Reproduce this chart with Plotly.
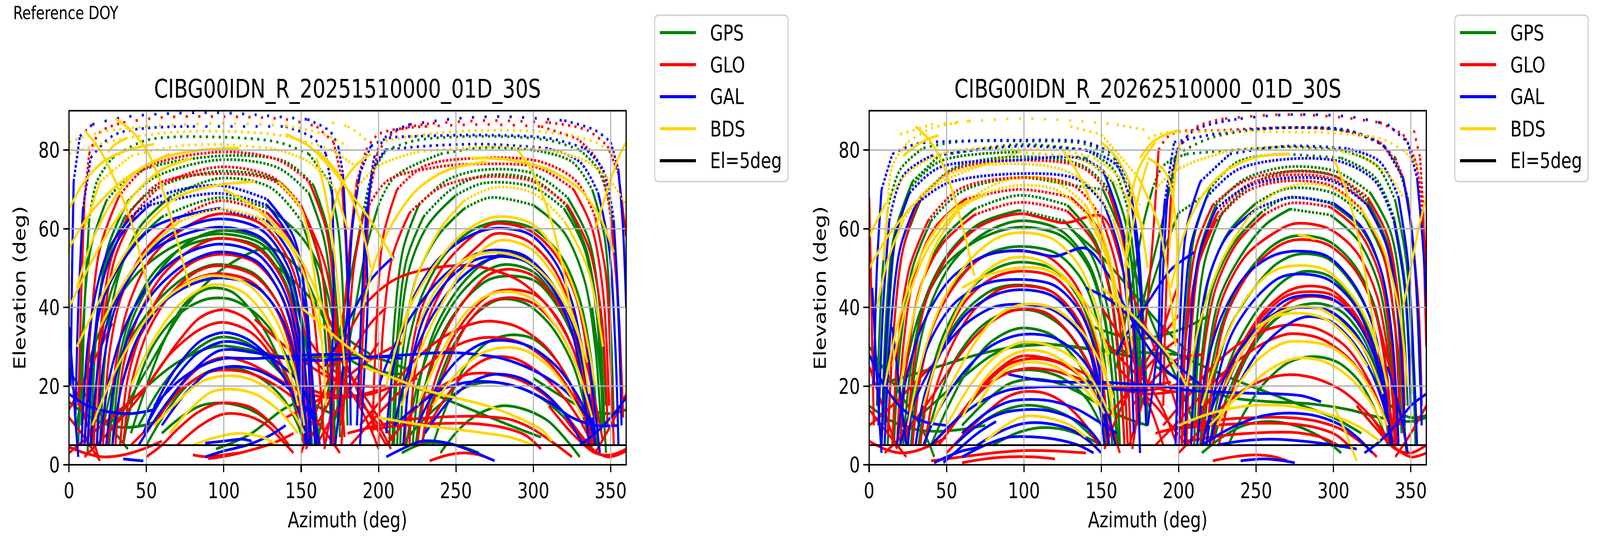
import plotly.graph_objects as go

FIG_W, FIG_H = 5228, 1398
FONT = "DejaVu Sans"

HEADER_TEXT = "Reference DOY"
PANEL_TITLES = ["CIBG00IDN_R_20251510000_01D_30S", "CIBG00IDN_R_20262510000_01D_30S"]
SYSTEMS = ["GPS", "GLO", "GAL", "BDS"]
SYSTEM_COLORS = {"GPS": "#008000", "GLO": "#ff0000", "GAL": "#0000ff", "BDS": "#ffd700"}
MASK_LABEL = "El=5deg"
MASK_COLOR = "#000000"
MASK_ELEV = 5
AZ_RANGE = [0, 360]
EL_RANGE = [0, 90]
AZ_TICKS = [0, 50, 100, 150, 200, 250, 300, 350]
EL_TICKS = [0, 20, 40, 60, 80]
X_LABEL = "Azimuth (deg)"
Y_LABEL = "Elevation (deg)"

# ---------------- Panel 1 (2025 DOY 151) : tracks as (azimuth, elevation) ----------------
P1_GPS = [
    [(8,10),(10,40),(13,62),(18,72),(28,78),(50,82.5),(97,83.3),(135,82),(155,79),(168,72),(174,60),(178,35),(180,10)],
    [(6,5),(9,35),(14,55),(24,67),(42,74),(97,78.5),(140,77),(158,71),(167,60),(173,40),(176,12)],
    [(14,5),(18,35),(25,55),(38,67),(55,73),(97,77.5),(135,75.5),(155,69),(165,57),(171,38),(174,10)],
    [(12,3),(16,30),(23,50),(36,63),(55,70),(97,74.6),(135,72),(152,64),(163,50),(169,30),(172,5)],
    [(20,5),(24,30),(32,48),(45,60),(65,68),(97,72.8),(130,70.5),(150,62),(161,48),(167,25),(170,5)],
    [(15,5),(20,30),(28,45),(40,55),(60,63),(97,67.9),(130,65),(150,58),(162,50),(170,38),(174,21),(175,7)],
    [(28,5),(33,25),(42,38),(56,48),(75,56),(97,59.5),(125,57),(142,48),(152,34),(157,15),(159,5)],
    [(26,5),(31,24),(40,38),(55,49),(75,55.5),(97,57.5),(122,55.5),(139,47),(149,34),(155,15),(157,5)],
    [(5,10),(12,25),(25,38),(45,49),(70,56),(97,58.7),(125,56),(140,48),(150,36),(158,18),(162,5)],
    [(20,5),(28,20),(40,32),(58,42),(78,48.5),(95,50.9),(120,48.5),(135,41),(145,30),(152,15),(155,5)],
    [(30,10),(50,24),(75,40),(100,50),(130,55),(150,49),(166,36),(181,27),(197,24),(215,23)],
    [(135,50),(150,45),(165,38),(180,32),(195,28)],
    [(40,8),(50,20),(62,32),(75,41),(90,44.8),(105,44),(120,38),(132,30),(142,20),(150,8)],
    [(35,5),(42,18),(54,30),(70,38),(88,42),(105,42),(122,38),(136,31),(146,22),(153,10)],
    [(45,10),(60,20),(78,28),(97,32.4),(115,31),(130,26),(145,20),(160,15),(175,12)],
    [(25,10),(45,18),(70,26),(95,30.1),(120,29),(145,27),(165,27.5),(180,28),(200,27),(220,24)],
    [(50,5),(62,13),(76,20),(92,24),(108,24.5),(124,22),(138,17),(148,10),(152,5)],
    [(60,8),(72,12),(85,15),(97,15.7),(110,15),(122,13),(132,10)],
    [(95,4),(108,6),(118,8),(128,11),(138,14),(148,16)],
    [(0,16),(10,13),(22,10.5),(35,9.5),(48,10),(60,11.5)],
    [(0,24),(10,18),(20,13),(30,8),(38,4)],
    [(160,5),(168,20),(176,36),(184,52),(190,64),(196,74),(205,80),(225,82.5),(268,83.5),(310,82.5),(330,80),(342,75),(350,65),(354,45),(357,15)],
    [(170,8),(177,22),(185,40),(192,55),(200,66),(210,73),(240,79),(268,80.6),(300,80),(325,77),(338,70),(346,58),(350,35),(352,10)],
    [(207,5),(210,35),(216,55),(226,66),(245,72.5),(268,75),(300,74),(322,68),(336,57),(343,40),(347,15)],
    [(209,5),(212,32),(218,52),(229,63),(247,70),(268,73.5),(300,72.5),(321,66),(334,55),(342,37),(346,10)],
    [(210,5),(213,30),(220,50),(232,61),(250,68.5),(268,71.6),(300,70.5),(320,65),(333,55),(341,38),(345,10)],
    [(212,5),(216,30),(224,47),(238,58),(255,65),(272,67.9),(300,66),(320,59),(333,47),(340,30),(344,8)],
    [(214,5),(218,28),(227,42),(242,53),(260,59.5),(278,61.8),(300,60),(318,53),(330,42),(338,25),(342,5)],
    [(222,5),(227,22),(237,35),(252,45),(267,51),(280,53.5),(298,52),(314,45),(326,35),(334,20),(338,5)],
    [(218,5),(225,20),(237,33),(252,43),(268,49),(282,50.9),(300,49),(315,42),(327,32),(336,18),(341,5)],
    [(224,5),(230,20),(241,33),(256,42),(271,47),(286,48),(302,46.5),(316,40),(328,30),(335,16),(339,5)],
    [(228,5),(236,18),(248,30),(262,38),(278,42),(295,41),(312,35),(326,25),(335,12),(338,5)],
    [(235,5),(244,15),(256,25),(270,31),(285,33),(300,32),(314,27),(326,19),(334,10),(338,4)],
    [(215,5),(228,11),(242,16),(258,20),(272,21),(288,20),(305,17),(320,12),(332,6)],
    [(240,3),(252,9),(265,13),(280,15),(295,14),(310,11),(322,6),(330,2)],
    [(190,26),(210,22),(235,18),(260,14),(285,10),(305,7)],
    [(215,3),(230,5.5),(250,5),(265,3)],
    [(300,22),(320,17),(335,14),(350,13),(360,14)],
    [(338,40),(342,28),(345,15),(347,3)],
]
P1_GLO = [
    [(6,15),(8,45),(10,68),(13,79),(20,84.5),(35,87),(60,88.3),(100,88.5),(140,87.8),(160,86),(171,82),(176,73),(179,55),(181,30)],
    [(10,5),(14,35),(20,55),(32,68),(50,75.5),(97,79.5),(135,77.5),(155,72),(166,60),(172,40),(176,10)],
    [(18,5),(22,35),(30,53),(43,64),(60,71),(97,75.7),(132,73),(150,66),(162,52),(168,30),(171,5)],
    [(16,5),(20,33),(27,52),(39,64),(58,71.5),(97,74),(133,72),(152,64),(166,50),(174,27),(178,7)],
    [(22,5),(26,28),(34,43),(48,54),(68,62),(97,67.1),(128,64),(145,56),(156,43),(162,22),(165,5)],
    [(25,5),(30,25),(38,40),(52,52),(72,59.5),(97,63.8),(125,61),(142,52),(152,38),(157,18),(159,5)],
    [(30,5),(35,25),(45,38),(60,48),(80,55),(97,57.6),(122,55),(138,47),(148,34),(154,15),(156,5)],
    [(33,5),(38,22),(48,35),(62,45),(80,51.5),(97,53.5),(120,51.5),(136,44),(146,33),(152,17),(154,5)],
    [(35,5),(40,20),(50,33),(65,43),(82,49),(97,50.6),(120,48),(135,41),(145,30),(150,15),(152,5)],
    [(28,5),(34,20),(45,32),(62,42),(80,47),(97,48.6),(118,46.5),(133,40),(143,30),(149,16),(152,5)],
    [(0,3),(15,8),(30,13),(50,20),(70,31),(85,37.5),(100,39.4),(115,37),(126,32),(138,25),(148,15),(154,5)],
    [(10,2),(25,8),(45,17),(65,28),(85,34.5),(100,36.2),(118,33.5),(132,27),(145,17),(155,5)],
    [(55,10),(70,19),(85,25),(100,27.3),(115,26),(130,23),(145,19.5),(160,17.5),(172,17),(185,17.5),(200,19)],
    [(40,5),(55,11),(72,19),(90,23.5),(100,24.1),(115,23.5),(130,21),(145,17),(158,12),(168,7),(175,3)],
    [(50,2),(60,5),(70,9),(82,13),(95,15.5),(105,15.7),(118,14.5),(132,10),(142,5)],
    [(70,5),(85,10),(100,12.9),(115,12.5),(128,10),(138,6),(145,3)],
    [(80,2.5),(90,2),(100,2.5),(110,3)],
    [(90,1.5),(105,2.5),(120,4),(135,6),(145,8)],
    [(0,4.5),(10,3),(22,2),(35,2.5),(48,4),(60,6)],
    [(0,12),(8,8),(15,4),(20,1)],
    [(2,20),(8,14),(14,8),(19,2)],
    [(0,14),(8,20),(18,28),(28,36)],
    [(153,4),(160,10),(168,16),(176,23),(185,30),(195,36),(205,40)],
    [(150,35),(158,30),(166,26),(176,22),(186,16),(195,9),(200,4)],
    [(120,37),(140,30),(160,24),(175,21),(190,20),(205,20)],
    [(150,3),(160,14),(170,24),(180,33),(192,41),(210,47),(235,50),(262,50.5),(290,47),(310,40),(325,30),(335,18),(340,8)],
    [(165,40),(175,30),(185,20),(195,12),(205,5)],
    [(150,20),(165,18),(180,17.5),(195,18),(210,20),(225,22)],
    [(140,12),(155,15),(170,19),(185,24),(200,28),(215,31)],
    [(155,28),(165,24),(178,20),(190,15),(200,10),(208,4)],
    [(160,5),(170,12),(180,18),(190,25),(200,31)],
    [(170,30),(180,24),(190,18),(200,12),(210,6)],
    [(188,15),(191,45),(194,68),(199,79),(210,84.5),(235,86.8),(270,87.5),(310,87),(335,85),(348,81),(355,74),(360,58)],
    [(165,4),(172,20),(178,40),(182,58),(186,72),(192,80),(200,84),(230,86),(268,86.5),(305,86),(328,83),(342,77),(350,63),(355,40),(358,12)],
    [(196,8),(199,38),(203,58),(212,70),(230,76),(268,78),(305,77),(328,72),(340,63),(347,48),(350,25),(352,5)],
    [(176,5),(180,30),(184,50),(190,63),(205,72),(235,75.5),(268,76.5),(303,75.5),(326,70),(338,60),(345,44),(349,15)],
    [(200,5),(203,35),(209,53),(220,64),(240,70.5),(268,73.2),(300,72),(322,66),(336,55),(344,38),(348,10)],
    [(217,5),(220,25),(228,40),(243,51),(262,58.5),(275,61.3),(298,59.5),(315,53),(328,42),(336,25),(340,5)],
    [(220,5),(224,25),(233,38),(248,49),(264,55.5),(275,58.7),(296,57),(313,50),(325,39),(333,22),(337,5)],
    [(225,5),(231,20),(242,33),(256,42),(270,48),(283,49.7),(300,48),(316,41),(328,31),(336,18),(340,5)],
    [(228,5),(234,18),(245,30),(259,38.5),(273,43.5),(287,44.5),(302,43),(316,37),(327,28),(335,15),(339,5)],
    [(230,10),(243,24),(256,35),(270,41),(285,42.5),(300,41),(315,35),(328,25),(336,15),(340,8)],
    [(188,10),(205,18),(222,26),(240,32),(258,35.5),(272,36.5),(290,35),(308,30),(322,22),(333,12),(338,5)],
    [(182,5),(200,13),(220,21),(240,28),(258,31.5),(272,32.4),(292,31),(310,26),(325,18),(335,10),(340,5)],
    [(232,10),(245,18),(258,24),(272,27.2),(288,27),(305,23),(320,17),(332,10),(338,5)],
    [(205,5),(215,10),(228,16),(243,20.5),(258,23),(272,23.2),(288,22),(303,19),(318,14),(330,8),(338,4)],
    [(180,8),(200,10),(220,11.5),(245,12.2),(265,12.3),(285,11.5),(300,9),(315,5),(325,2)],
    [(195,9),(215,10),(240,10.5),(260,10.5),(280,9.5),(295,7.5),(305,4)],
    [(233,1),(245,2.5),(255,3),(265,2.5),(272,1.5)],
    [(310,15),(325,8),(340,3),(350,2.5),(360,4)],
    [(320,12),(335,5),(348,2),(360,3.5)],
    [(325,40),(333,28),(340,16),(345,6)],
    [(340,3),(350,10),(360,18)],
]
P1_GAL = [
    [(1,20),(2,50),(3,72),(7,83.5),(15,86.5),(38,88.5),(95,89.5),(154,87.8),(169,84.6),(174,80.8),(177,74),(179,58),(181,35),(182,10)],
    [(4,10),(6,40),(9,65),(14,78),(30,84),(80,86),(140,86),(158,83),(166,79),(170,70),(171,50),(170,25),(169,5)],
    [(8,5),(12,30),(18,45),(26,55),(40,63),(60,68.5),(97,71),(128,67.5),(145,58),(152,45),(155,25),(156,5)],
    [(12,5),(16,30),(22,47),(33,58),(52,66),(97,69),(128,66),(145,56),(153,42),(157,22),(159,5)],
    [(10,5),(15,28),(22,42),(35,52),(55,60.5),(97,65.2),(128,62),(145,52),(153,38),(158,18),(160,5)],
    [(18,5),(22,25),(30,40),(45,51),(65,58.5),(97,62.5),(125,59.5),(142,50),(150,36),(154,16),(156,5)],
    [(14,5),(20,28),(28,40),(42,50),(62,56.5),(97,60.4),(125,57.5),(140,49),(148,35),(152,15),(154,5)],
    [(20,5),(26,22),(36,35),(52,46),(72,53),(97,56.1),(122,53.5),(138,45),(147,33),(152,15),(154,5)],
    [(24,5),(30,22),(40,34),(55,44),(75,51),(97,54.1),(122,51.5),(137,43),(146,31),(151,14),(153,5)],
    [(28,5),(34,20),(44,32),(60,41),(80,46),(97,47.5),(120,45.5),(135,39),(145,29),(151,14),(153,5)],
    [(48,8),(58,17),(70,25),(85,31.5),(100,33.6),(115,32),(130,27),(142,20),(150,12),(155,5)],
    [(50,10),(65,20),(82,28),(100,31.3),(118,30),(135,26),(150,20),(158,12),(162,5)],
    [(45,5),(60,14),(78,23),(97,29),(120,28.5),(140,27),(160,26.5),(180,27),(200,27.5),(215,27)],
    [(55,15),(70,21),(85,25),(100,27),(120,27),(140,27.5),(160,28),(180,28)],
    [(165,25),(175,32),(185,40),(195,47),(210,53)],
    [(60,10),(75,18),(90,23.5),(105,25),(122,24),(140,20),(152,15),(160,10)],
    [(88,2),(100,3.5),(115,5),(130,7.5),(140,10)],
    [(88,5.5),(100,6),(112,6.5),(118,6)],
    [(35,1.5),(42,1.2),(48,1)],
    [(0,35),(2,25),(4,12),(6,2)],
    [(0,18),(12,15),(25,13.5),(40,13),(55,14)],
    [(186,10),(189,40),(192,65),(197,78),(205,83.5),(220,86.5),(250,88),(280,88.5),(320,87.5),(340,85),(350,82),(355,75),(358,60),(360,40)],
    [(172,5),(176,20),(180,40),(183,60),(188,74),(195,81),(206,83),(225,83.5),(268,83.8),(310,83),(333,80.5),(345,75),(352,62),(355,40),(357,10)],
    [(188,5),(191,25),(193,42),(192,60),(196,75),(204,80),(230,81),(268,81.5),(308,80.5),(330,77),(342,69),(349,55),(353,30),(355,5)],
    [(205,8),(211,28),(222,42),(238,52),(258,58),(275,60.1),(298,58.5),(315,51),(326,40),(333,25),(338,8)],
    [(200,20),(210,30),(225,40),(242,48),(260,53),(275,54.6),(295,53),(312,46),(325,36),(334,22),(340,8)],
    [(216,5),(221,25),(230,38),(245,47),(262,52),(278,53),(296,51.5),(312,45),(324,35),(332,20),(336,5)],
    [(210,10),(220,25),(235,38),(252,47),(270,52),(290,53),(310,47),(325,36),(335,20),(340,5)],
    [(225,10),(238,20),(252,27),(268,31),(282,31.6),(298,30),(315,25),(328,18),(338,10)],
    [(180,27),(200,27.5),(220,28),(240,28.5),(260,28.2),(280,27),(300,24),(320,19),(335,12),(340,8)],
    [(230,8),(245,16),(260,21),(275,23),(292,22),(308,18),(322,12),(332,5)],
    [(210,10),(225,15),(240,19),(258,21),(275,21),(292,19.5),(310,16),(325,12),(340,10),(355,10)],
    [(205,2),(215,4),(228,6),(245,5.5),(260,3.5),(275,1)],
    [(330,5),(340,8),(350,12),(360,17)],
    [(335,30),(338,20),(341,10),(343,3)],
]
P1_BDS = [
    [(0,82),(20,84.5),(50,86),(95,86.8),(140,86.2),(165,84),(180,81)],
    [(0,79),(25,82),(60,84.3),(100,84.8),(140,83.5),(170,80),(185,76)],
    [(10,60),(20,72),(40,78.5),(70,81),(97,81.4),(130,80.5),(155,77),(172,70),(180,60)],
    [(20,35),(35,46),(52,55),(72,62),(97,65),(122,63),(142,56),(155,45),(163,32)],
    [(15,10),(30,24),(48,36),(68,44),(90,48),(115,46),(132,38),(145,25),(152,10)],
    [(40,20),(55,32),(72,41),(92,45.7),(112,44),(128,37),(140,27),(148,15)],
    [(55,10),(70,16),(85,21),(100,22.6),(115,22),(130,19),(145,13),(152,8)],
    [(65,8),(78,14),(92,18.5),(105,19.2),(120,18),(135,14),(148,8)],
    [(80,5),(95,7),(110,8),(125,7),(135,5)],
    [(150,40),(165,35),(180,30),(195,26)],
    [(185,70),(200,76),(225,79.5),(268,80.8),(310,80),(335,77),(350,72),(360,66)],
    [(200,82),(230,84),(268,85),(310,84.5),(340,82),(355,78)],
    [(170,87),(180,86),(188,84),(193,82)],
    [(215,30),(225,48),(240,60),(255,67),(275,70.5),(300,69),(320,62),(335,50),(345,30)],
    [(205,20),(218,38),(235,50),(255,59),(275,63),(300,61),(318,52),(330,40),(340,20)],
    [(215,15),(228,30),(244,43),(260,52),(278,57),(298,55),(315,47),(328,35),(336,18)],
    [(225,35),(238,45),(255,52),(275,54),(295,52),(312,46),(325,37),(335,26)],
    [(225,15),(240,28),(255,38),(270,43),(285,44),(300,42),(315,35),(328,25),(338,12)],
    [(235,15),(250,23),(265,28),(280,29.8),(295,29),(310,25),(322,19),(332,12)],
    [(190,25),(210,22),(230,19),(250,17),(270,15),(290,12),(305,9),(312,6)],
    [(200,12),(230,10),(260,8.5),(285,7),(300,5)],
]
# slowly moving BDS GEO / IGSO arcs: dense 30 s samples, drawn solid at every elevation
P1_BDS_SLOW = [
    [(0,40),(15,52),(30,62),(45,70),(60,75),(80,78)],
    [(0,55),(12,63),(28,70),(45,75),(65,79)],
    [(0,65),(10,72),(22,77),(38,80),(55,81.5)],
    [(5,45),(15,57),(28,67),(42,74),(60,78),(85,80),(110,80.5)],
    [(5,30),(20,42),(35,53),(50,61),(70,68),(95,71),(120,72)],
    [(10,85),(20,80),(30,72),(40,62),(48,50),(55,38)],
    [(30,88),(40,85),(50,80),(58,73),(65,64),(72,54),(78,45)],
    [(25,79.5),(30,81.5),(37,83)],
    [(100,70),(118,66),(135,60),(150,52),(162,42),(170,32)],
    [(135,72),(150,65),(158,50),(163,33),(166,15)],
    [(140,84),(155,81),(168,76),(180,70),(195,62),(210,52)],
    [(160,80),(170,76),(180,70),(188,62),(195,50)],
    [(168,60),(175,70),(185,76),(195,79)],
    [(160,78),(166,68),(171,55),(175,40),(178,25)],
    [(190,40),(198,52),(210,62),(225,70),(245,75),(270,77)],
    [(260,78),(285,77.5),(310,75),(330,70),(343,63),(352,54)],
    [(290,80),(300,74),(310,64),(318,52),(324,40)],
    [(340,60),(348,70),(355,78),(360,82)],
]

# ---------------- Panel 2 (2026 DOY 251) ----------------
P2_GPS = [
    [(5,15),(8,45),(12,65),(20,75),(35,80.5),(55,82),(97,82.3),(140,81.5),(158,78),(168,70),(174,55),(178,30),(180,10)],
    [(10,10),(13,40),(18,60),(28,72),(45,78.5),(97,81.4),(140,80),(158,75),(167,65),(173,45),(176,15)],
    [(8,5),(11,38),(16,58),(26,70),(45,77),(97,79.5),(140,78),(157,72),(166,61),(172,40),(175,10)],
    [(12,5),(16,35),(22,55),(34,68),(55,75.5),(97,78.3),(138,76),(155,70),(165,58),(170,38),(173,10)],
    [(16,5),(20,30),(28,50),(40,62),(60,69.5),(97,73),(132,71),(151,70),(166,56),(181,38),(193,27),(203,18),(210,10)],
    [(20,5),(25,28),(33,45),(47,57),(68,65),(97,68.5),(128,66),(146,57),(156,44),(162,25),(165,5)],
    [(22,5),(27,25),(36,42),(50,53),(70,61),(97,64.7),(126,62),(144,53),(154,40),(160,20),(162,5)],
    [(25,5),(30,25),(39,40),(53,51),(73,58.5),(97,62),(124,59.5),(142,51),(152,38),(158,18),(160,5)],
    [(18,5),(24,25),(34,40),(50,51),(72,57.5),(97,60.4),(125,58),(142,50),(152,37),(158,18),(161,5)],
    [(27,5),(32,22),(42,36),(57,47),(76,53.5),(97,55.5),(122,53.5),(139,46),(149,34),(155,16),(157,5)],
    [(32,5),(38,20),(48,33),(62,43),(80,49.5),(97,51.5),(120,49.5),(136,42),(146,31),(152,15),(155,5)],
    [(30,5),(36,18),(47,30),(62,39),(80,44.5),(97,45.7),(118,44),(134,37),(144,27),(150,14),(153,5)],
    [(130,60),(150,53),(170,44),(185,37),(195,33),(205,29)],
    [(163,27),(170,32),(178,40),(188,52),(200,64),(215,68)],
    [(145,35),(160,33),(175,32),(190,33),(205,35),(220,38)],
    [(36,5),(44,16),(56,27),(72,35),(90,39),(108,39),(125,35),(138,28),(148,18),(154,7)],
    [(40,5),(50,14),(62,23),(78,31),(97,34.7),(118,33),(133,27),(145,19),(152,10),(155,5)],
    [(45,5),(58,12),(73,19),(90,23.5),(108,24),(125,22),(140,17),(150,10),(155,5)],
    [(20,8),(40,15),(60,22),(80,28),(100,31),(120,30.5),(140,29.5),(160,29),(180,28.5),(200,28)],
    [(60,10),(75,16),(90,20.5),(105,21.8),(120,21),(135,18.5),(150,15),(165,12),(180,10)],
    [(55,5),(70,10),(85,13.5),(100,15.1),(115,14.5),(130,12),(142,8),(150,5)],
    [(80,5),(95,8),(110,9.4),(125,9),(140,7),(150,5)],
    [(0,15),(15,11),(30,9),(45,8.5),(60,9),(75,10)],
    [(0,30),(10,24),(20,18),(30,12),(38,6),(42,2)],
    [(0,20),(20,22),(45,25),(70,28),(95,30),(120,30.5),(150,29),(175,27)],
    [(165,15),(167,21),(175,38),(189,61),(199,79),(220,83),(245,85),(270,85.7),(300,85.3),(325,83),(340,78),(348,68),(353,48),(356,20)],
    [(160,25),(166,38),(172,50),(177,61),(183,70),(190,76),(205,79),(235,80),(270,80.8),(305,80),(328,76),(340,67),(347,52),(351,28),(353,5)],
    [(202,5),(205,38),(210,58),(220,70),(238,77),(270,79),(305,78),(327,73),(339,63),(346,47),(350,18)],
    [(205,5),(208,35),(214,55),(224,66),(242,72.5),(270,75.7),(302,74.5),(324,69),(337,59),(344,42),(348,15)],
    [(208,5),(211,33),(217,52),(228,64),(246,71),(270,74.5),(300,73.5),(322,67),(335,56),(342,38),(346,10)],
    [(210,5),(213,30),(220,48),(232,59),(250,66.5),(270,70.2),(300,69),(320,63),(333,52),(340,35),(344,8)],
    [(212,5),(215,28),(222,45),(235,56),(253,64),(270,67.9),(298,66.5),(318,60),(331,49),(338,32),(342,6)],
    [(214,5),(218,25),(226,42),(240,53),(256,61),(272,65),(298,63.5),(316,57),(329,46),(336,30),(340,5)],
    [(216,5),(220,22),(229,37),(243,48),(260,55.5),(274,58.1),(296,57),(313,51),(326,41),(334,25),(338,5)],
    [(218,5),(222,20),(232,34),(247,44),(263,51),(277,53.5),(296,52.5),(312,46),(325,36),(333,20),(337,5)],
    [(220,5),(226,18),(237,30),(252,40),(267,46.5),(280,49.1),(297,48),(312,42),(324,33),(332,20),(336,5)],
    [(222,5),(230,16),(242,27),(257,35),(272,39.5),(285,40),(300,38.5),(314,33),(325,25),(333,14),(336,5)],
    [(226,5),(233,17),(245,28),(260,36),(275,40),(290,41),(305,39),(318,33),(328,24),(335,12),(338,5)],
    [(232,5),(242,13),(256,21),(271,26),(287,27.5),(303,26),(317,21),(328,13),(335,5)],
    [(190,30),(205,27),(222,24),(240,21),(260,18),(280,15),(300,12),(318,8)],
    [(185,25),(210,20),(235,17),(260,16),(285,15.5),(310,14),(330,12),(350,11),(360,12)],
    [(215,3),(228,7),(242,10),(258,11),(275,10),(292,7),(305,3)],
    [(330,18),(340,14),(350,12),(360,12.5)],
    [(338,40),(342,28),(345,15),(347,3)],
]
P2_GLO = [
    [(12,8),(16,35),(22,55),(33,68),(55,75),(97,77.4),(138,75.5),(155,69),(164,57),(170,38),(173,10)],
    [(15,5),(19,32),(26,50),(38,62),(58,70),(97,73),(132,71),(150,63),(160,50),(166,30),(169,5)],
    [(18,5),(22,30),(29,48),(42,60),(62,67.5),(97,70),(130,68),(148,60),(158,47),(164,27),(167,5)],
    [(20,5),(25,28),(33,45),(47,56),(68,63.5),(97,66.7),(128,64.5),(146,56),(156,43),(162,22),(165,5)],
    [(24,5),(29,26),(37,42),(51,53),(71,60.5),(97,63.8),(126,61.5),(151,63),(166,47),(181,33),(196,18),(204,7)],
    [(28,5),(33,22),(42,36),(56,46),(72,52.5),(90,54.3),(115,53),(133,46),(145,34),(152,18),(155,5)],
    [(33,5),(39,20),(49,32),(63,42),(80,47.5),(97,49.2),(120,47.5),(136,40),(146,29),(152,15),(155,5)],
    [(36,5),(42,18),(53,30),(67,39),(84,44.5),(97,45.5),(118,44),(134,37.5),(145,27),(151,14),(154,5)],
    [(10,3),(25,9),(40,17),(55,26),(72,34),(88,38.5),(100,39.6),(115,38.5),(128,34),(140,27),(150,18),(158,8),(162,3)],
    [(45,5),(58,12),(74,20),(90,25.5),(105,27),(122,26),(138,22),(150,15),(157,7)],
    [(50,8),(65,16),(80,23),(97,27.5),(115,27),(135,24),(150,21),(165,19),(180,18),(195,18.5)],
    [(40,5),(55,11),(70,18),(85,22.5),(100,24.4),(118,24),(135,22),(150,20),(165,19.5),(180,20),(195,21)],
    [(50,3),(62,8),(75,13),(88,17),(100,18.6),(115,18),(128,15),(140,10),(148,5)],
    [(40,1),(60,2),(80,3),(100,3.6),(120,3.5),(140,3)],
    [(60,0.5),(75,1.5),(90,2),(105,2),(120,1.5)],
    [(0,6),(10,4),(20,3),(30,3.5),(40,5),(50,7)],
    [(0,14),(8,10),(16,6),(24,2)],
    [(0,25),(6,18),(12,11),(18,4)],
    [(0,68),(1,50),(2,30),(3,10)],
    [(0,10),(12,14),(25,19),(40,25)],
    [(152,4),(160,12),(170,20),(180,27),(190,33),(200,38)],
    [(150,40),(160,34),(170,27),(180,21),(190,14),(198,6)],
    [(150,20),(165,19.5),(180,19),(195,20),(210,22)],
    [(150,33),(160,28),(170,24),(180,21),(190,19),(200,18.5)],
    [(150,10),(160,15),(170,20),(180,25),(190,29),(200,32)],
    [(160,40),(168,30),(176,20),(184,12),(190,5)],
    [(168,5),(176,15),(184,26),(192,37),(200,46)],
    [(170,15),(180,20),(190,24),(200,27),(215,28)],
    [(160,25),(172,20),(185,15),(195,10),(205,5)],
    [(190,15),(192,45),(195,68),(200,80),(210,85.5),(230,88),(265,89),(300,88.5),(330,87),(345,84),(353,77),(358,62),(360,50)],
    [(170,4),(174,15),(178,33),(183,56),(187,80),(195,84),(228,85),(270,85.7),(305,85),(330,82),(343,75),(350,62),(355,40),(357,15)],
    [(202,5),(205,35),(211,55),(222,66),(242,72),(270,74.5),(300,73.5),(322,68),(335,58),(342,42),(346,15)],
    [(205,5),(208,33),(214,53),(225,64),(244,71),(268,73.6),(300,72.5),(321,66.5),(334,56),(341,40),(345,12)],
    [(200,5),(204,30),(212,50),(224,62),(244,69.5),(268,72.1),(298,71),(318,65),(331,55),(339,38),(343,10)],
    [(212,5),(216,28),(224,45),(237,56),(255,63.5),(272,66.5),(298,65.5),(317,59),(330,48),(337,31),(341,5)],
    [(215,5),(219,25),(228,42),(243,53),(262,59),(275,61.3),(297,60),(315,54),(328,43),(336,26),(340,5)],
    [(218,5),(222,22),(231,38),(246,49),(264,55.5),(276,57.2),(296,56),(313,50),(326,40),(334,24),(338,5)],
    [(222,5),(228,18),(240,30),(255,39),(270,44),(282,45.4),(298,44.5),(313,39),(325,30),(333,18),(337,5)],
    [(226,5),(233,17),(245,29),(260,37.5),(275,42),(289,42.8),(304,41),(318,35),(328,26),(335,13),(338,5)],
    [(210,10),(225,20),(240,30),(256,38.5),(270,43),(285,44),(300,43),(315,37.5),(328,28),(336,15),(340,6)],
    [(190,10),(205,17),(222,25),(240,31),(258,34.5),(272,35.6),(290,34.5),(308,30),(322,22),(333,12),(338,5)],
    [(185,5),(202,12),(220,20),(240,27),(258,31.5),(272,33.3),(292,32),(310,27),(325,19),(335,10),(340,5)],
    [(200,3),(212,8),(226,14),(242,19),(258,22),(272,22.9),(288,22),(305,19),(320,14),(333,8),(340,4)],
    [(185,8),(205,10),(228,11.5),(250,12),(270,12),(290,11),(305,9),(320,5),(328,2)],
    [(195,9),(220,10),(245,10.5),(268,10.5),(288,9.5),(302,7.5),(312,4)],
    [(205,6),(230,7.5),(255,8.2),(275,8.2),(292,7),(305,4.5)],
    [(222,1),(235,2),(250,2.5),(262,2),(270,1)],
    [(315,15),(328,9),(340,4),(350,3),(360,5)],
    [(325,12),(338,5),(350,2),(360,3)],
    [(340,2),(350,8),(360,15)],
    [(330,35),(336,25),(342,15),(347,5)],
    [(352,85),(356,78),(358,65),(359,45),(360,30)],
]
P2_GAL = [
    [(3,20),(5,50),(8,70),(15,79),(30,81.5),(60,82.3),(97,82.5),(140,82),(158,79),(168,72),(174,55),(177,30),(179,10)],
    [(6,10),(9,40),(13,62),(22,73.5),(40,78.5),(97,81),(140,80),(160,76),(170,65),(175,45),(178,15)],
    [(8,5),(12,38),(17,58),(26,69),(45,75.5),(97,77.5),(135,78),(151,75),(163,61),(169,44),(172,30),(174,15),(175,3)],
    [(10,5),(14,35),(20,55),(30,66),(50,71.5),(97,74),(135,72.5),(152,66),(162,54),(168,35),(171,8)],
    [(18,5),(24,22),(35,36),(52,47),(74,53),(97,54.5),(120,53),(140,55),(155,48),(168,38),(180,30),(192,24),(205,20)],
    [(25,5),(30,20),(40,32),(55,41),(75,46),(97,47.1),(120,45.5),(136,39),(146,29),(152,15),(155,5)],
    [(30,5),(36,18),(47,29),(62,38),(80,43),(97,44.5),(118,43),(133,37),(143,28),(149,15),(152,5)],
    [(20,5),(28,15),(42,26),(60,35),(80,40),(97,40.8),(118,39.5),(135,34),(146,25),(152,12),(155,5)],
    [(35,5),(45,14),(60,23),(78,30),(97,33),(118,32.5),(135,28),(147,21),(155,12),(159,5)],
    [(160,28),(166,33),(178,40),(188,46),(196,50),(210,54)],
    [(140,45),(155,42),(170,37),(185,31),(200,25),(215,20)],
    [(90,23),(110,21.5),(130,21),(150,21),(170,20.5),(190,20)],
    [(40,5),(55,11),(72,16),(90,19),(110,19.8),(130,19.8),(150,19.5),(165,19),(180,19)],
    [(60,8),(75,13),(90,16),(105,16.6),(120,16),(135,14),(148,11),(160,8)],
    [(55,5),(70,10),(85,13),(100,14),(115,13.8),(130,12),(142,9),(150,5)],
    [(70,5),(85,8.5),(100,10.5),(115,10.5),(130,9),(142,6),(150,3)],
    [(60,2),(75,5),(90,7),(105,7.1),(120,6.5),(135,5),(145,3)],
    [(42,0.5),(50,2),(60,3.5),(72,4.5)],
    [(48,0.5),(58,4),(70,8),(82,11)],
    [(2,45),(4,30),(6,15),(8,3)],
    [(0,28),(10,20),(22,14),(35,11),(50,10)],
    [(15,35),(18,25),(21,15),(24,5)],
    [(188,20),(190,50),(193,70),(199,80),(210,85),(240,88),(270,89),(310,88.5),(335,86.5),(348,82),(354,73),(358,55),(360,40)],
    [(180,10),(185,25),(187,33),(188,50),(191,67),(197,82),(230,84.5),(270,85.7),(310,85),(333,81),(345,73),(351,58),(355,35),(357,10)],
    [(198,5),(201,38),(205,60),(214,72),(233,79),(270,81),(307,80.5),(330,77),(342,68),(348,52),(352,25),(354,5)],
    [(200,5),(203,35),(208,56),(218,68),(238,75),(270,77.7),(305,77),(327,72),(339,62),(346,45),(350,15)],
    [(204,5),(207,33),(213,53),(224,65),(243,70.5),(270,72.9),(300,72),(322,66),(335,55),(342,38),(346,10)],
    [(208,5),(212,30),(219,47),(231,58),(250,65),(272,67.9),(300,66.5),(319,60),(331,49),(338,32),(342,5)],
    [(212,5),(218,25),(228,38),(243,48),(260,53),(275,54.3),(296,53),(313,46),(325,36),(333,20),(337,5)],
    [(218,5),(224,20),(234,33),(249,42),(265,47.5),(280,48.5),(297,47),(313,41),(325,31),(333,18),(337,5)],
    [(220,5),(228,17),(240,28),(255,37),(270,42),(285,43.1),(300,42),(314,37),(326,28),(334,15),(338,5)],
    [(215,5),(223,16),(236,27),(252,35.5),(268,39.5),(282,40),(298,39),(313,34),(325,26),(334,14),(338,5)],
    [(225,10),(238,20),(252,29),(268,35),(282,37.6),(298,36.5),(313,31),(325,23),(334,13),(338,6)],
    [(190,20),(205,19),(225,18.5),(245,18.2),(265,18),(280,17.5),(292,16)],
    [(215,5),(232,9),(250,12),(268,13.1),(288,12.5),(305,10),(318,6),(325,3)],
    [(240,1),(255,1.5),(268,1),(275,0.5)],
    [(225,5),(240,6),(260,6.5),(280,6),(300,5),(315,4)],
    [(320,3),(330,6),(340,10),(350,15),(360,18)],
    [(335,25),(340,18),(345,10),(348,3)],
]
P2_BDS = [
    [(20,84),(40,86.5),(70,87.5),(100,88),(130,87.5),(160,86.5),(180,85)],
    [(9,52),(12,65),(15,76),(25,82),(40,85.5),(55,86.8),(70,87.8)],
    [(0,58),(10,66),(22,73),(35,77),(50,79.5),(70,80.5),(97,80.3),(125,80),(145,78),(162,73),(175,66)],
    [(0,50),(12,58),(28,66),(45,71.5),(65,75),(97,79.5),(130,78.5),(150,75),(165,69),(178,60)],
    [(5,40),(12,52),(22,62),(35,69),(52,74),(72,76),(97,76.5),(125,75),(145,70),(158,62),(168,50)],
    [(20,20),(30,40),(42,55),(58,65),(77,70.5),(97,73),(120,72),(140,66),(152,55),(160,40)],
    [(15,25),(25,42),(38,55),(55,64),(75,69),(97,71),(120,70),(140,64),(152,54),(162,40)],
    [(25,10),(35,28),(48,42),(65,52),(82,57.5),(97,59),(118,57.5),(135,51),(147,40),(155,25)],
    [(35,15),(45,28),(58,40),(75,49),(92,52.6),(110,52),(128,47),(142,38),(152,25),(158,12)],
    [(60,45),(75,48),(95,50),(115,49.5),(132,45),(145,38),(155,28)],
    [(150,45),(165,40),(180,34),(195,27),(205,20)],
    [(40,10),(55,22),(70,32),(85,38.5),(100,40.8),(118,40),(135,35),(148,27),(158,17)],
    [(50,10),(65,20),(80,27),(97,31),(115,30.5),(132,27),(145,21),(155,13)],
    [(60,12),(75,22),(88,27),(100,29),(115,28.5),(130,25),(142,20),(152,13)],
    [(70,15),(82,22),(95,25.5),(105,26.1),(120,25),(135,21),(148,15)],
    [(75,6),(88,10),(100,12.3),(115,12),(130,10),(140,7)],
    [(130,86),(150,84),(174,73),(187,61),(194,45),(198,30)],
    [(180,83),(190,84.3),(210,84.6),(240,84.8),(270,84.6),(300,84.3),(330,83),(345,80),(355,76)],
    [(185,70),(195,74),(210,77),(235,80),(270,80.8),(300,80),(320,78),(335,74),(345,68)],
    [(205,20),(215,38),(228,52),(245,63),(262,69),(278,71.3),(298,70.5),(318,65),(332,55),(342,40),(348,20)],
    [(215,15),(228,30),(243,42),(260,49),(275,50.6),(295,49.5),(312,43),(326,33),(335,20)],
    [(250,35),(265,38),(280,38.5),(295,37),(310,32),(322,25)],
    [(230,20),(243,30),(258,37),(275,40),(292,39.5),(308,35),(322,28),(332,18)],
    [(225,10),(238,20),(252,27),(268,31),(282,31.3),(298,30),(314,25),(327,17),(335,10)],
    [(220,10),(240,18),(258,24),(275,27),(292,26.5),(308,23),(322,17),(332,10)],
    [(200,10),(220,13),(245,15),(270,15),(295,13),(315,10),(330,6)],
    [(300,15),(306,10),(311,5),(315,1)],
]
P2_BDS_SLOW = [
    [(22,78.5),(30,81),(38,82.8),(45,83.7)],
    [(10,20),(18,35),(28,48),(40,58),(55,65),(75,68.5)],
    [(30,86),(40,82),(48,76),(55,68),(62,58),(68,48)],
    [(125,80),(135,74),(145,65),(155,53),(162,40),(168,28)],
    [(150,82),(160,78),(168,72),(175,62),(180,50)],
    [(165,50),(170,60),(175,70),(180,77)],
    [(185,82),(175,76),(168,66),(166,52),(167,40),(170,30)],
    [(180,78),(192,74),(198,62),(199,45),(197,32)],
    [(175,78),(183,82),(192,84),(200,85)],
    [(195,45),(203,58),(213,67),(228,74),(248,78),(272,79)],
    [(277,58.5),(283,58),(288,57.3)],
    [(300,78),(308,70),(316,58),(322,45),(328,30)],
    [(345,40),(350,50),(355,60),(360,68)],
    [(194,55),(196,65),(198,75),(201,82)],
]

PANELS = [
    {"GPS": P1_GPS, "GLO": P1_GLO, "GAL": P1_GAL, "BDS": P1_BDS, "BDS_SLOW": P1_BDS_SLOW},
    {"GPS": P2_GPS, "GLO": P2_GLO, "GAL": P2_GAL, "BDS": P2_BDS, "BDS_SLOW": P2_BDS_SLOW},
]

# ---------------- styling / layout (pixels of the 5228 x 1398 canvas) ----------------
PANEL_DX = 2614.5                      # horizontal offset of the second panel
X_DOMAINS = [[225.5 / FIG_W, 2046 / FIG_W], [(225.5 + PANEL_DX) / FIG_W, (2046 + PANEL_DX) / FIG_W]]
Y_DOMAIN = [(FIG_H - 1190) / FIG_H, (FIG_H - 283.5) / FIG_H]
LEVEL_EDGES = [62, 78, 86]              # elevation bands where the 30 s samples thin out
LEVEL_DASH = {0: "solid", 1: "7px,5px", 2: "7px,14px", 3: "7px,34px"}
TRACK_WIDTH = 7


def px_x(x):
    return x / FIG_W


def px_y(y):
    return 1 - y / FIG_H


def seg_level(e1, e2):
    e = min(e1, e2)
    return sum(1 for t in LEVEL_EDGES if e >= t)


def split_runs(track, dense=False):
    if dense:
        return [(0, track)]
    runs, run, cur = [], [track[0]], None
    for a, b in zip(track[:-1], track[1:]):
        lv = seg_level(a[1], b[1])
        if cur is None or lv == cur:
            run.append(b)
        else:
            runs.append((cur, run))
            run = [a, b]
        cur = lv
    runs.append((cur, run))
    return runs


fig = go.Figure()

for pi, panel in enumerate(PANELS):
    xa = "x" if pi == 0 else "x2"
    ya = "y" if pi == 0 else "y2"
    for key in SYSTEMS + ["BDS_SLOW"]:
        sysname = key.split("_")[0]
        dense = key.endswith("SLOW")
        buckets = {lv: ([], []) for lv in LEVEL_DASH}
        for tr in panel[key]:
            for lv, run in split_runs(tr, dense):
                xs, ys = buckets[lv]
                xs.extend([p[0] for p in run] + [None])
                ys.extend([p[1] for p in run] + [None])
        for lv, (xs, ys) in buckets.items():
            if not xs:
                continue
            fig.add_trace(go.Scatter(
                x=xs, y=ys, mode="lines", xaxis=xa, yaxis=ya, name=sysname,
                line=dict(color=SYSTEM_COLORS[sysname], width=TRACK_WIDTH,
                          shape="spline", smoothing=0.9, dash=LEVEL_DASH[lv]),
                showlegend=False, hoverinfo="skip", connectgaps=False,
            ))

shapes = []
annotations = [dict(text=HEADER_TEXT, xref="paper", yref="paper", x=px_x(41), y=px_y(33),
                    xanchor="left", yanchor="middle", showarrow=False,
                    font=dict(family=FONT, size=46, color="#000000"))]

LEGEND_BOX = (2139, 39, 2575, 465)      # left, top, right, bottom in px (first panel)
LEGEND_LINE_X = (2156, 2274)
LEGEND_TEXT_X = 2318
LEGEND_ROW_Y0, LEGEND_ROW_DY = 83.5, 82
LEGEND_RADIUS = 14


def rounded_rect_path(l, t, r, b, rad):
    pts = [
        ("M", [(l + rad, t)]), ("L", [(r - rad, t)]), ("Q", [(r, t), (r, t + rad)]),
        ("L", [(r, b - rad)]), ("Q", [(r, b), (r - rad, b)]), ("L", [(l + rad, b)]),
        ("Q", [(l, b), (l, b - rad)]), ("L", [(l, t + rad)]), ("Q", [(l, t), (l + rad, t)]),
    ]
    out = []
    for cmd, ps in pts:
        out.append(cmd + " " + " ".join(f"{px_x(x):.6f},{px_y(y):.6f}" for x, y in ps))
    return " ".join(out) + " Z"


for pi in range(2):
    xr = "x" if pi == 0 else "x2"
    yr = "y" if pi == 0 else "y2"
    dx = pi * PANEL_DX
    for t in AZ_TICKS:
        if AZ_RANGE[0] < t < AZ_RANGE[1]:
            shapes.append(dict(type="line", xref=xr, yref=f"{yr} domain", x0=t, x1=t, y0=0, y1=1,
                               line=dict(color="#b0b0b0", width=3.5), layer="above"))
    for t in EL_TICKS:
        if EL_RANGE[0] < t < EL_RANGE[1]:
            shapes.append(dict(type="line", xref=f"{xr} domain", yref=yr, x0=0, x1=1, y0=t, y1=t,
                               line=dict(color="#b0b0b0", width=3.5), layer="above"))
    shapes.append(dict(type="line", xref=xr, yref=yr, x0=AZ_RANGE[0], x1=AZ_RANGE[1],
                       y0=MASK_ELEV, y1=MASK_ELEV, line=dict(color=MASK_COLOR, width=4.5), layer="above"))
    shapes.append(dict(type="rect", xref=f"{xr} domain", yref=f"{yr} domain", x0=0, x1=1, y0=0, y1=1,
                       line=dict(color="#000000", width=4), fillcolor="rgba(0,0,0,0)", layer="above"))

    # legend (frame, handles, labels)
    l, t, r, b = LEGEND_BOX
    shapes.append(dict(type="path", xref="paper", yref="paper",
                       path=rounded_rect_path(l + dx, t, r + dx, b, LEGEND_RADIUS),
                       line=dict(color="#d3d3d3", width=4), fillcolor="rgba(255,255,255,0.8)", layer="above"))
    for k, name in enumerate(SYSTEMS + [MASK_LABEL]):
        yc = LEGEND_ROW_Y0 + k * LEGEND_ROW_DY
        color = SYSTEM_COLORS.get(name, MASK_COLOR)
        shapes.append(dict(type="line", xref="paper", yref="paper",
                           x0=px_x(LEGEND_LINE_X[0] + dx), x1=px_x(LEGEND_LINE_X[1] + dx),
                           y0=px_y(yc), y1=px_y(yc), line=dict(color=color, width=8), layer="above"))
        annotations.append(dict(text=name, xref="paper", yref="paper", x=px_x(LEGEND_TEXT_X + dx), y=px_y(yc),
                                xanchor="left", yanchor="middle", showarrow=False,
                                font=dict(family=FONT, size=55, color="#000000")))

    cx = (X_DOMAINS[pi][0] + X_DOMAINS[pi][1]) / 2
    annotations.append(dict(text=PANEL_TITLES[pi], xref="paper", yref="paper", x=cx, y=px_y(228),
                            xanchor="center", yanchor="middle", showarrow=False,
                            font=dict(family=FONT, size=66, color="#000000")))
    annotations.append(dict(text=X_LABEL, xref="paper", yref="paper", x=cx, y=px_y(1331),
                            xanchor="center", yanchor="middle", showarrow=False,
                            font=dict(family=FONT, size=55, color="#000000")))
    annotations.append(dict(text=Y_LABEL, xref="paper", yref="paper",
                            x=px_x(64 + dx), y=(Y_DOMAIN[0] + Y_DOMAIN[1]) / 2,
                            xanchor="center", yanchor="middle", textangle=-90, showarrow=False,
                            font=dict(family=FONT, size=55, color="#000000")))

axis_common = dict(showgrid=False, zeroline=False, showline=False, ticks="outside", automargin=False,
                   ticklen=18, tickwidth=4, tickcolor="#000000",
                   tickfont=dict(family=FONT, size=55, color="#000000"))

fig.update_layout(
    width=FIG_W, height=FIG_H, margin=dict(l=0, r=0, t=0, b=0, autoexpand=False),
    paper_bgcolor="#ffffff", plot_bgcolor="#ffffff",
    font=dict(family=FONT, color="#000000"),
    xaxis=dict(domain=X_DOMAINS[0], range=AZ_RANGE, tickvals=AZ_TICKS, anchor="y", **axis_common),
    yaxis=dict(domain=Y_DOMAIN, range=EL_RANGE, tickvals=EL_TICKS, anchor="x", **axis_common),
    xaxis2=dict(domain=X_DOMAINS[1], range=AZ_RANGE, tickvals=AZ_TICKS, anchor="y2", **axis_common),
    yaxis2=dict(domain=Y_DOMAIN, range=EL_RANGE, tickvals=EL_TICKS, anchor="x2", **axis_common),
    shapes=shapes, annotations=annotations, showlegend=False,
)

# keep the fixed-size figure fitted to whatever viewport the page is opened in
FIT_JS = """
(function(){
  var gd = document.getElementById('{plot_id}');
  document.documentElement.style.margin = '0';
  document.documentElement.style.overflow = 'hidden';
  document.body.style.margin = '0';
  document.body.style.overflow = 'hidden';
  function fit(){
    var sx = window.innerWidth / %d, sy = window.innerHeight / %d;
    gd.style.transformOrigin = '0 0';
    gd.style.transform = 'scale(' + sx + ',' + sy + ')';
  }
  fit();
  window.addEventListener('resize', fit);
})();
""" % (FIG_W, FIG_H)

fig.write_html("out.html", post_script=FIT_JS, config={"displayModeBar": False})
